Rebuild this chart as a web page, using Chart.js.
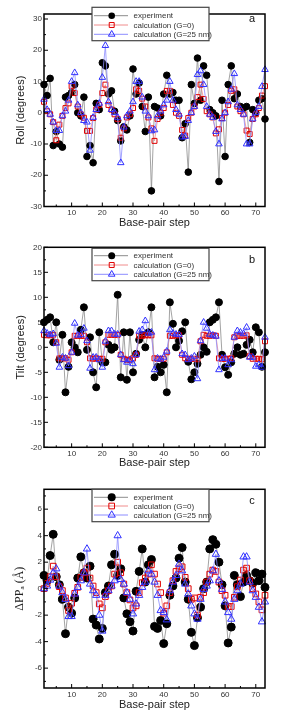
<!DOCTYPE html>
<html>
<head>
<meta charset="utf-8">
<script src="https://cdn.jsdelivr.net/npm/chart.js@4.4.1/dist/chart.umd.min.js"></script>
<style>
  html, body { margin: 0; padding: 0; background: #fff; }
  #wrap { position: relative; width: 283px; height: 721px; overflow: hidden; }
  .panel { position: absolute; left: 0; width: 283px; }
</style>
</head>
<body>
<div id="wrap">
  <div class="panel" style="top:0;height:240px"><canvas id="rollChart"></canvas></div>
  <div class="panel" style="top:240px;height:240px"><canvas id="tiltChart"></canvas></div>
  <div class="panel" style="top:480px;height:241px"><canvas id="ppChart"></canvas></div>
</div>
<script>
// base-pair steps
const steps = [1, 2, 3, 4, 5, 6, 7, 8, 9, 10, 11, 12, 13, 14, 15, 16, 17, 18, 19, 20,
  21, 22, 23, 24, 25, 26, 27, 28, 29, 30, 31, 32, 33, 34, 35, 36, 37, 38, 39, 40,
  41, 42, 43, 44, 45, 46, 47, 48, 49, 50, 51, 52, 53, 54, 55, 56, 57, 58, 59, 60,
  61, 62, 63, 64, 65, 66, 67, 68, 69, 70, 71, 72, 73];

const seriesNames = ['experiment', 'calculation (G=0)', 'calculation (G=25 nm)'];

// panel a - roll
const rollExp = [9, 5.5, 11, -10.5, -6, -10, -11, 5, 5.5, 6.5,
  9, 0, -1, 5, -14, -10.5, -16, 3, 1, 16,
  15, 6, 7, 0.5, -2.5, -9, -4.5, -5.5, -1, 14,
  6, 9.5, 2, -6, 5, -25, 2, 1.5, -1, 6,
  12, 6, 6.5, 4, 4, -8, -3.5, -19, 9, 3,
  17.5, 4, 15, 12, 1, 0, -1, -22, 4, -14,
  9, 15, 4.5, 6, 2, 1.5, 2, -9.5, 1, 0,
  4, 4.5, -2];
const rollG0 = [3.5, 0.5, -0.5, -3, -8.8, -3.8, -1, 1.5, 3, 8.5,
  6.3, 2, -0.5, -1.6, -5.8, -5.8, -1.7, 1, 2.5, 6.3,
  9, 2.5, 1, -0.5, -2, -8, -5, -1.5, -0.5, 1.5,
  7.5, 7, 4.5, 2, -1.5, -5, -9, -2, 0, 1.5,
  7, 7, 2.5, 0, -1, -5.5, -7.3, -1.7, 0, 2,
  5, 9, 4.4, 0.5, -0.5, -1.5, -6.6, -5.3, -1.7, 0,
  2.5, 7, 7.5, 2, 0.5, -0.5, -5.7, -6.8, -2, -0.5,
  1.5, 5.5, 8.5];
const rollG25 = [4.3, 1, -0.5, -3, -5.7, -5.7, -1, 0.5, 4, 10,
  12.8, 2.5, 0, -2.5, -3, -12, -1.5, 1, 3, 11.3,
  21.5, 3.5, 1, 0, -1.5, -16, -4.6, -1, 0.5, 3.5,
  10, 10, 5, 0.5, -1, -5.8, -5.5, -1, 0.5, 2.5,
  4, 10, 4, 1, -0.5, -7.8, -7.6, -2.5, 0, 2,
  12.2, 13.4, 9, 2, -0.5, -1.5, -6, -10, -2, 0,
  3.5, 7.5, 12.5, 2.5, 1, -0.5, -10, -10, -2, 0,
  2, 8.4, 13.8];

// panel b - tilt
const tiltExp = [5, 5.5, 6, 1, 5, -2.5, 2.5, -9, -3.9, 1,
  0, -1, 3.5, 8, -0.5, 2, -5, -8, 3, -3,
  -3, 0.5, -0.5, 0, 10.5, -6, 3, -6.5, 3, -5,
  -1.3, 1.5, 2.5, 0, 3, 8, -6, -3.9, -5, -3.5,
  -9, 9, 4.7, 0, 1.3, 3.2, 5, -2.9, -6.4, -5,
  -3.3, -1.5, 0, -0.9, 5, 5.5, 6, 9, -1.5, -4,
  -5.5, -3, -1.3, 0, -1.5, -1.3, 0.5, 1.5, -1, 4,
  3, -3.9, -1];
const tiltG0 = [2.5, 2.4, 2.4, 2.5, 1, -2.2, -2.2, -2.2, -2.5, -1,
  2.3, 2.3, 2.3, 2.3, 1, -2.2, -2.3, -2.2, -2.3, -2.3,
  1, 2.5, 2.5, 2.5, 2.5, -1.5, -2.3, -2.5, -2.5, -2.2,
  -1.5, 2.3, 2.3, 2.4, 2.4, 2.4, -2.2, -2.3, -2.3, -2.3,
  -1, 2.3, 2.3, 2.4, 2.4, -1.5, -2.2, -2.3, -2.3, -2.3,
  -2.4, 1.2, 2.5, 2.3, 2.3, 2.4, 2.3, -2.2, -2.3, -2.3,
  -2.3, -2.2, 2, 2.3, 2.3, 2.3, 2.4, -1.8, -2.3, -2.3,
  -2.3, -2.4, 1.2];
const tiltG25 = [3.3, 2.8, 2.5, 2.7, 0.8, -4, -2, -2.2, -3.7, -1,
  4.8, 2.4, 2.5, 3.8, 1.3, -4.2, -2, -2, -2.5, -4,
  1.2, 3.3, 3.3, 2.6, 2.6, -1.5, -2.5, -3, -2.5, -3.3,
  -1.5, 3.2, 3.5, 5.3, 2.8, 3, -4.5, -2.2, -2.4, -2,
  -0.8, 3.5, 2.8, 2.6, 2.5, -1.3, -1.5, -2.5, -2.2, -1.8,
  -6.3, 1.3, 5, 3.8, 2.6, 2.4, 2.2, -4.5, -2.2, -2.2,
  -3.5, -2.5, 2, 3.3, 3, 2.7, 4, -2, -2, -3.8,
  -3.5, -4, 2];

// panel c - delta PPa
const ppExp = [1, 0.6, 2.5, 4.1, 0.9, 0.3, -0.8, -3.4, -1.4, -1.85,
  -0.7, 0.8, 2.4, 1.2, 0.8, 1.7, -2.3, -2.75, -3.8, -3,
  -0.3, 0.2, 1.8, 2.6, 1, 1.5, -0.7, -1.9, -2.5, -3.2,
  -0.2, 1.3, 3, 0.5, 1.8, 2.2, -2.85, -3, -2.4, -4.15,
  -2.65, -0.5, 0.2, 0.8, 2.3, 3.1, 0.5, -0.8, -3.3, -4.3,
  -2.2, -1.4, 0, 0.5, 3, 3.7, 3.35, 2, 0.3, -1.3,
  -4.1, -2.9, 1, 0.3, -0.6, 0.5, 1, 0.6, 0.4, 1.2,
  0.6, 1.1, 0.1];
const ppG0 = [0, 0.4, 0.9, 1.7, 0.9, 0.15, -0.15, -0.7, -1.65, -1.1,
  -0.35, 0.1, 0.85, 1.2, 1.55, 0.8, 0.2, -0.3, -1.15, -1.45,
  -0.6, -0.15, 0.2, 1.1, 2, 1.2, 0.35, -0.3, -0.85, -1.45,
  -1.3, -0.3, 0.45, 0.8, 1.1, 1.8, 1.1, 0.35, -0.3, -1.85,
  -1.3, -0.3, 0.6, 1.3, 1.5, 1.65, 0.85, 0, -0.8, -0.7,
  -2, -0.65, -0.3, 0.5, 1.1, 1.4, 1.3, 0.5, -0.15, -0.5,
  -1.35, -1.35, -0.65, 0.15, 0.65, 1.4, 1.55, 0.6, 0, -0.4,
  -1, -1.6, -0.5];
const ppG25 = [0, 0.2, 0.65, 1.2, 1.5, 0.2, -0.3, -0.8, -2.1, -2.1,
  -0.4, 0.1, 0.6, 1.2, 3, 0.35, -0.15, -0.5, -2, -3.2,
  -0.5, -0.15, 0.2, 0.6, 4, 0.7, 0.35, -0.3, -0.8, -1.9,
  -1.15, -0.5, 0.1, 0.5, 1.35, 1.1, 0.5, -0.5, -1.65, -1.8,
  -2.35, -0.15, 0.5, 1, 1.85, 1.35, 0.35, -0.4, -1.3, -1.9,
  -2.3, -0.8, -0.05, 0.2, 0.6, 1.35, 2.6, 0.6, -0.05, -1,
  -1.8, -2.3, -0.8, -0.15, 0.35, 2.4, 2.4, 0.5, -0.15, -0.65,
  -1.4, -2.5, -1];

// tick labels
const xTicks = [10, 20, 30, 40, 50, 60, 70];
const rollTicks = [-30, -20, -10, 0, 10, 20, 30];
const tiltTicks = [-20, -15, -10, -5, 0, 5, 10, 15, 20];
const ppTicks = [-6, -4, -2, 0, 2, 4, 6];

const sans = 'Liberation Sans, Arial, sans-serif';

function drawMarker(ctx, style, x, y, r) {
  ctx.beginPath();
  if (style === 'circle') {
    ctx.arc(x, y, r, 0, Math.PI * 2);
    ctx.fillStyle = '#000';
    ctx.fill();
    return;
  }
  if (style === 'rect') {
    const s = r * Math.SQRT1_2;
    ctx.rect(x - s, y - s, 2 * s, 2 * s);
    ctx.strokeStyle = '#e00000';
  } else {
    ctx.moveTo(x, y - r);
    ctx.lineTo(x + r * 0.866, y + r * 0.5);
    ctx.lineTo(x - r * 0.866, y + r * 0.5);
    ctx.closePath();
    ctx.strokeStyle = '#3030ff';
  }
  ctx.lineWidth = 1;
  ctx.stroke();
}

// frame, inward ticks, legend box and panel letter
const decor = {
  id: 'decor',
  afterDraw(chart, args, o) {
    const {ctx, chartArea: a, scales: {x, y}} = chart;
    ctx.save();
    ctx.strokeStyle = '#000';
    ctx.lineWidth = 1;
    const tick = (x0, y0, x1, y1) => { ctx.beginPath(); ctx.moveTo(x0, y0); ctx.lineTo(x1, y1); ctx.stroke(); };
    const yStep = o.yTicks[1] - o.yTicks[0];
    for (let v = o.yTicks[0] - yStep / 2; v <= y.max; v += yStep / 2) {
      if (v < y.min) continue;
      const py = y.getPixelForValue(v);
      const major = o.yTicks.includes(v);
      tick(a.left, py, a.left + (major ? 4 : 2), py);
    }
    for (let v = 5; v < x.max; v += 5) {
      const px = x.getPixelForValue(v);
      tick(px, a.bottom, px, a.bottom - (v % 10 === 0 ? 4 : 2));
    }
    ctx.lineWidth = 1.5;
    ctx.strokeRect(a.left, a.top, a.right - a.left, a.bottom - a.top);

    // legend
    const L = o.legend;
    ctx.fillStyle = '#fff';
    ctx.fillRect(92, L.top, 117, L.bottom - L.top);
    ctx.strokeStyle = '#444';
    ctx.lineWidth = 1.2;
    ctx.strokeRect(92, L.top, 117, L.bottom - L.top);
    ctx.font = '8px ' + sans;
    ctx.textBaseline = 'middle';
    ctx.textAlign = 'left';
    chart.data.datasets.forEach((d, i) => {
      const ry = L.rows[i];
      ctx.strokeStyle = d.borderColor;
      ctx.lineWidth = 1;
      tick(94, ry, 128, ry);
      drawMarker(ctx, d.pointStyle, 111.7, ry, d.pointRadius);
      ctx.fillStyle = '#333';
      ctx.fillText(d.label, 133.5, ry + 0.5);
    });

    ctx.fillStyle = '#111';
    ctx.font = '11px ' + sans;
    ctx.textAlign = 'center';
    ctx.fillText(o.letter, 252, o.letterY);
    ctx.restore();
  }
};

function makePanel(id, p) {
  const pts = vals => steps.map((s, i) => ({x: s, y: vals[i]}));
  const common = {borderWidth: 0.8, tension: 0, clip: false, pointBorderWidth: 1};
  const datasets = [
    Object.assign({label: seriesNames[0], data: pts(p.exp), borderColor: '#8c8c8c',
      pointStyle: 'circle', pointRadius: p.dot, pointBackgroundColor: '#000',
      pointBorderColor: '#000', order: 2}, common),
    Object.assign({label: seriesNames[1], data: pts(p.g0), borderColor: '#f08c8c',
      pointStyle: 'rect', pointRadius: p.sq, pointBackgroundColor: 'rgba(0,0,0,0)',
      pointBorderColor: '#e00000', order: 1}, common),
    Object.assign({label: seriesNames[2], data: pts(p.g25), borderColor: '#8c8cff',
      pointStyle: 'triangle', pointRadius: p.tri, pointBackgroundColor: 'rgba(0,0,0,0)',
      pointBorderColor: '#3030ff', order: 0}, common)
  ];
  new Chart(document.getElementById(id), {
    type: 'line',
    data: {datasets},
    plugins: [decor],
    options: {
      responsive: true,
      maintainAspectRatio: false,
      animation: false,
      events: [],
      layout: {padding: {top: p.top, right: 18, bottom: 0, left: 0}},
      plugins: {
        legend: {display: false},
        tooltip: {enabled: false},
        decor: {yTicks: p.yTicks, legend: p.legend, letter: p.letter, letterY: p.letterY}
      },
      scales: {
        x: {
          type: 'linear', min: 1, max: 73,
          afterBuildTicks: s => { s.ticks = xTicks.map(v => ({value: v})); },
          afterFit: s => { s.height = p.xAxisH; },
          grid: {display: false, drawTicks: false},
          border: {display: false},
          ticks: {font: {size: 8, family: sans}, color: '#333', padding: 1.5, maxRotation: 0, autoSkip: false},
          title: {display: true, text: 'Base-pair step', color: '#222',
            font: {size: 11, family: sans}, padding: {top: 0, bottom: p.xTitlePad}}
        },
        y: {
          type: 'linear', min: p.yMin, max: p.yMax,
          afterBuildTicks: s => { s.ticks = p.yTicks.map(v => ({value: v})); },
          afterFit: s => { s.width = 44; },
          grid: {display: false, drawTicks: false},
          border: {display: false},
          ticks: {font: {size: 8, family: sans}, color: '#333', padding: 2, autoSkip: false},
          title: {display: true, text: p.yTitle, color: '#222', font: p.yFont,
            padding: {top: p.yTitlePad, bottom: 0}}
        }
      }
    }
  });
}

makePanel('rollChart', {
  exp: rollExp, g0: rollG0, g25: rollG25, yMin: -30, yMax: 31.6, yTicks: rollTicks,
  yTitle: 'Roll (degrees)', yFont: {size: 11, family: sans}, yTitlePad: 14.4,
  top: 14, xAxisH: 33.5, xTitlePad: 10.4, dot: 3.3, sq: 3.5, tri: 3.8,
  legend: {top: 7.3, bottom: 40.7, rows: [15.7, 25, 34.3]}, letter: 'a', letterY: 19
});
makePanel('tiltChart', {
  exp: tiltExp, g0: tiltG0, g25: tiltG25, yMin: -20, yMax: 20, yTicks: tiltTicks,
  yTitle: 'Tilt (degrees)', yFont: {size: 11, family: sans}, yTitlePad: 14.4,
  top: 7.3, xAxisH: 32.7, xTitlePad: 10.4, dot: 3.5, sq: 3.5, tri: 3.8,
  legend: {top: 8.3, bottom: 40.7, rows: [15.7, 25, 34.3]}, letter: 'b', letterY: 20
});
makePanel('ppChart', {
  exp: ppExp, g0: ppG0, g25: ppG25, yMin: -7.5, yMax: 7.5, yTicks: ppTicks,
  yTitle: '\u0394PP\u2090 (\u00c5)', yFont: {size: 12, family: 'Liberation Serif, DejaVu Serif, serif'}, yTitlePad: 12.3,
  top: 9.3, xAxisH: 33, xTitlePad: 9.4, dot: 4, sq: 4, tri: 4.2,
  legend: {top: 9.3, bottom: 41.7, rows: [17.3, 26, 35]}, letter: 'c', letterY: 20.7
});
</script>
</body>
</html>
